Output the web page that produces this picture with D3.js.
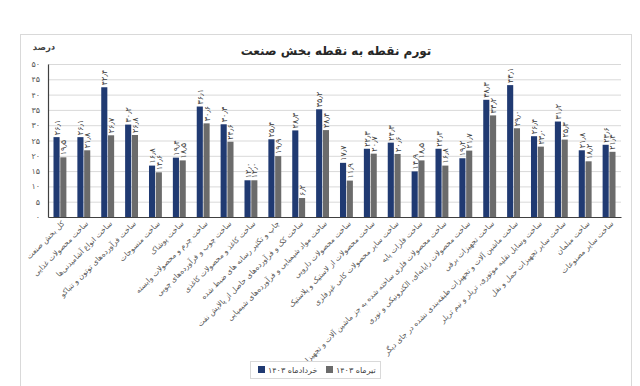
<!DOCTYPE html>
<html><head><meta charset="utf-8">
<script src="https://cdn.jsdelivr.net/npm/d3@7"></script>
<style>
html,body{margin:0;padding:0;background:#fff;}
svg{display:block;font-family:"DejaVu Sans",sans-serif;}
</style></head>
<body>
<svg id="chart" width="640" height="386"></svg>
<script>
const categories = [
  "کل بخش صنعت",
  "ساخت محصولات غذایی",
  "ساخت انواع آشامیدنی‌ها",
  "ساخت فرآورده‌های توتون و تنباکو",
  "ساخت منسوجات",
  "ساخت پوشاک",
  "ساخت چرم و محصولات وابسته",
  "ساخت چوب و فرآورده‌های چوبی",
  "ساخت کاغذ و محصولات کاغذی",
  "چاپ و تکثیر رسانه های ضبط شده",
  "ساخت کک و فرآورده‌های حاصل از پالایش نفت",
  "ساخت مواد شیمیایی و فرآورده‌های شیمیایی",
  "ساخت محصولات دارویی",
  "ساخت محصولات از لاستیک و پلاستیک",
  "ساخت سایر محصولات کانی غیرفلزی",
  "ساخت فلزات پایه",
  "ساخت محصولات فلزی ساخته شده به جز ماشین آلات و تجهیزات",
  "ساخت محصولات رایانه‌ای، الکترونیکی و نوری",
  "ساخت تجهیزات برقی",
  "ساخت ماشین آلات و تجهیزات طبقه‌بندی نشده در جای دیگر",
  "ساخت وسایل نقلیه موتوری، تریلر و نیم تریلر",
  "ساخت سایر تجهیزات حمل و نقل",
  "ساخت مبلمان",
  "ساخت سایر مصنوعات"
];
const khordad = [26.1,26.1,42.4,30.2,16.8,19.4,36.1,30.3,12.0,25.4,28.3,35.2,17.7,22.3,24.3,14.9,22.3,19.2,38.3,43.1,26.4,31.2,21.8,23.6];
const tir     = [19.5,21.8,26.7,26.8,14.6,18.5,30.6,24.6,12.0,19.9,6.2,28.4,11.9,20.7,20.6,18.5,16.8,21.7,33.2,29.0,23.0,25.3,18.2,21.3];
const seriesNames = ["خردادماه ۱۴۰۳","تیرماه ۱۴۰۳"];
const yTicks = [0,5,10,15,20,25,30,35,40,45,50];
const title = "تورم نقطه به نقطه بخش صنعت";
const yUnit = "درصد";

const colors = ["#203a72","#6b6b6b"];
const fa = s => String(s).replace(/[0-9]/g, d => "۰۱۲۳۴۵۶۷۸۹"[d]).replace(".", "٫");
const fmt = v => fa(v.toFixed(1));

const svg = d3.select("#chart");
const L = 48, R = 621, T = 64, B = 217;

// frame
svg.append("rect").attr("x",20.5).attr("y",34.5).attr("width",611).attr("height",360)
  .attr("fill","#fff").attr("stroke","#d9d9d9");

svg.append("text").attr("x",336).attr("y",55).attr("text-anchor","middle")
  .attr("font-size",12).attr("font-weight","bold").attr("fill","#262626").text(title);
svg.append("text").attr("x",44).attr("y",50).attr("text-anchor","middle")
  .attr("font-size",8.5).attr("font-weight","bold").attr("fill","#404040").text(yUnit);

const y = d3.scaleLinear().domain([0,50]).range([B,T]);
const x = d3.scaleBand().domain(categories).range([L,R]).paddingInner(0.46).paddingOuter(0.23);
const xs = d3.scaleBand().domain([0,1]).range([0,x.bandwidth()]).paddingInner(0.1);

// gridlines
svg.append("g").selectAll("line").data(yTicks.filter(t=>t>0)).join("line")
  .attr("x1",L).attr("x2",R).attr("y1",d=>y(d)+0.5).attr("y2",d=>y(d)+0.5)
  .attr("stroke","#d9d9d9").attr("stroke-width",1);

// y axis
const yAxis = svg.append("g").attr("transform",`translate(${L},0)`)
  .call(d3.axisLeft(y).tickValues(yTicks).tickSize(0).tickPadding(8).tickFormat(fa));
yAxis.select(".domain").attr("stroke","#404040").attr("stroke-width",1.2);
yAxis.selectAll("text").attr("font-size",8).attr("fill","#595959").attr("font-family","DejaVu Sans");

// bars
const series = [khordad, tir];
series.forEach((vals, si) => {
  const g = svg.append("g");
  g.selectAll("rect").data(vals).join("rect")
    .attr("x",(d,i)=>x(categories[i])+xs(si))
    .attr("width",xs.bandwidth())
    .attr("y",d=>y(d)).attr("height",d=>B-y(d))
    .attr("fill",colors[si]);
  g.selectAll("text").data(vals).join("text")
    .attr("transform",(d,i)=>`translate(${x(categories[i])+xs(si)+xs.bandwidth()/2+3},${y(d)-2}) rotate(-90)`)
    .attr("text-anchor","start").attr("font-size",8).attr("fill","#404040")
    .text(fmt);
});

// x axis
const xAxis = svg.append("g").attr("transform",`translate(0,${B})`)
  .call(d3.axisBottom(x).tickSize(0).tickFormat(""));
xAxis.select(".domain").attr("stroke","#404040").attr("stroke-width",1.2);

svg.append("g").selectAll("text").data(categories).join("text")
  .attr("transform",d=>`translate(${x(d)+x.bandwidth()/2+5},${B+7}) rotate(-45)`)
  .attr("text-anchor","end").attr("font-size",7.5).attr("fill","#595959")
  .text(d=>d);

// legend
const lg = svg.append("g");
lg.append("rect").attr("x",250.5).attr("y",361.5).attr("width",130).attr("height",17)
  .attr("fill","#fff").attr("stroke","#d9d9d9");
const items = [{x:258,c:colors[0],t:seriesNames[0]},{x:326,c:colors[1],t:seriesNames[1]}];
items.forEach(it=>{
  lg.append("rect").attr("x",it.x).attr("y",366).attr("width",7).attr("height",7).attr("fill",it.c);
  lg.append("text").attr("x",it.x+10).attr("y",373).attr("text-anchor","start")
    .attr("font-size",8).attr("fill","#404040").attr("direction","ltr").text(it.t);
});
</script>
</body></html>
